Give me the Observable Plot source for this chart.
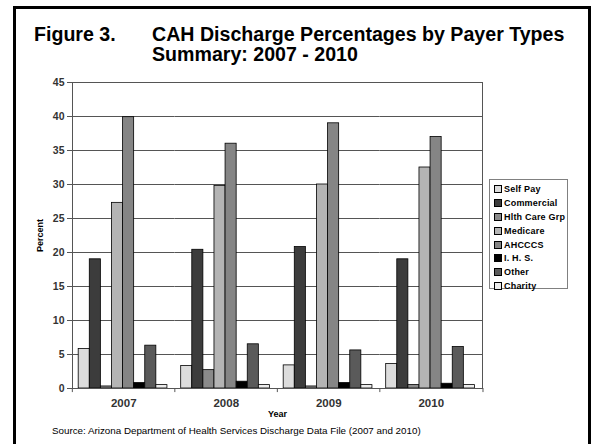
<!DOCTYPE html>
<html><head><meta charset="utf-8">
<script src="https://cdn.jsdelivr.net/npm/d3@7"></script>
<script src="https://cdn.jsdelivr.net/npm/@observablehq/plot@0.6"></script>
<style>
body{margin:0;background:#fff;font-family:Arial,"Liberation Sans",sans-serif;}
#wrap{position:relative;width:602px;height:444px;overflow:hidden;background:#fff;}
#border{position:absolute;left:13px;top:6px;width:572px;height:460px;border:3px solid #000;}
#chart{position:absolute;left:0;top:0;}
.t{position:absolute;font-weight:bold;font-size:19.6px;line-height:20px;color:#000;white-space:nowrap;}
#legend{position:absolute;left:489px;top:179px;width:79px;height:110px;border:1px solid #808080;background:#fff;box-sizing:border-box;padding-top:2px;}
.li{display:flex;align-items:center;height:13.9px;font-size:9px;font-weight:bold;letter-spacing:0.2px;color:#000;white-space:nowrap;}
.sw{width:6px;height:6px;border:1px solid #000;margin:0 2px 0 4px;flex:none;}
#source{position:absolute;left:52px;top:425px;font-size:9.8px;color:#000;white-space:nowrap;}
</style></head><body>
<div id="wrap">
  <div id="chart"></div>
  <div class="t" style="left:34px;top:24px;">Figure 3.</div>
  <div class="t" style="left:152px;top:24px;">CAH Discharge Percentages by Payer Types<br>Summary: 2007 - 2010</div>
  <div id="legend"></div>
  <div id="source">Source: Arizona Department of Health Services Discharge Data File (2007 and 2010)</div>
  <div id="border"></div>
</div>
<script>
const years = ["2007", "2008", "2009", "2010"];
const payers = ["Self Pay", "Commercial", "Hlth Care Grp", "Medicare", "AHCCCS", "I. H. S.", "Other", "Charity"];
const colors = ["#dcdcdc", "#3c3c3c", "#8a8a8a", "#b4b4b4", "#858585", "#000000", "#5a5a5a", "#ececec"];
const yTicks = [0, 5, 10, 15, 20, 25, 30, 35, 40, 45];

const selfPay     = [5.8, 3.3, 3.4, 3.6];
const commercial  = [19.0, 20.4, 20.8, 19.0];
const hlthCareGrp = [0.3, 2.7, 0.3, 0.5];
const medicare    = [27.3, 29.8, 30.0, 32.5];
const ahcccs      = [39.9, 36.0, 39.0, 37.0];
const ihs         = [0.8, 1.0, 0.8, 0.7];
const other       = [6.3, 6.5, 5.6, 6.1];
const charity     = [0.5, 0.5, 0.5, 0.5];

const series = [selfPay, commercial, hlthCareGrp, medicare, ahcccs, ihs, other, charity];
const data = [];
years.forEach((yr, i) => payers.forEach((p, j) => data.push({year: yr, payer: p, value: series[j][i]})));

const font = "Arial, 'Liberation Sans', sans-serif";
const chart = Plot.plot({
  width: 602, height: 444,
  marginLeft: 72, marginRight: 120, marginTop: 82, marginBottom: 56,
  style: {fontFamily: font, background: "transparent", overflow: "visible"},
  fx: {domain: years, padding: 0, round: false, label: null},
  x: {domain: payers, paddingInner: 0, paddingOuter: 0.62, align: 0.45, round: false, axis: null},
  y: {domain: [0, 45], label: null},
  color: {domain: payers, range: colors},
  marks: [
    Plot.ruleY(yTicks.filter(d => d > 0), {stroke: "#555", strokeWidth: 1}),
    Plot.barY(data, {fx: "year", x: "payer", y: "value", fill: "payer", stroke: "#000", strokeWidth: 0.8}),
    Plot.frame({facet: "super", stroke: "#555"}),
    Plot.ruleX(years, {fx: d => d, x: () => payers[0], y1: 0, y2: -0.6, dx: -11.9, stroke: "#555"}),
    Plot.ruleX(years.slice(-1), {fx: d => d, x: () => payers[payers.length - 1], y1: 0, y2: -0.6, dx: 13.6, stroke: "#555"}),
    Plot.axisY({ticks: yTicks, tickSize: 5, tickPadding: 3, fontSize: 10.5, fontWeight: "bold", fill: "#333", stroke: "#555", label: null}),
    Plot.axisY({ticks: [], tickSize: 0, label: "Percent", labelAnchor: "center", labelOffset: 36, labelArrow: "none", fontSize: 9, fontWeight: "bold", fill: "#000"}),
    Plot.axisFx({anchor: "bottom", tickSize: 0, tickPadding: 10, fontSize: 11.5, fontWeight: "bold", fill: "#333", label: null}),
    Plot.axisFx({anchor: "bottom", tickSize: 0, tickFormat: () => "", label: "Year", labelAnchor: "center", labelOffset: 28, labelArrow: "none", fontSize: 9, fontWeight: "bold", fill: "#000"})
  ]
});
document.getElementById("chart").appendChild(chart);

const legend = document.getElementById("legend");
payers.forEach((p, j) => {
  const row = document.createElement("div");
  row.className = "li";
  const sw = document.createElement("span");
  sw.className = "sw";
  sw.style.background = colors[j];
  row.appendChild(sw);
  row.appendChild(document.createTextNode(p));
  legend.appendChild(row);
});
</script>
</body></html>
